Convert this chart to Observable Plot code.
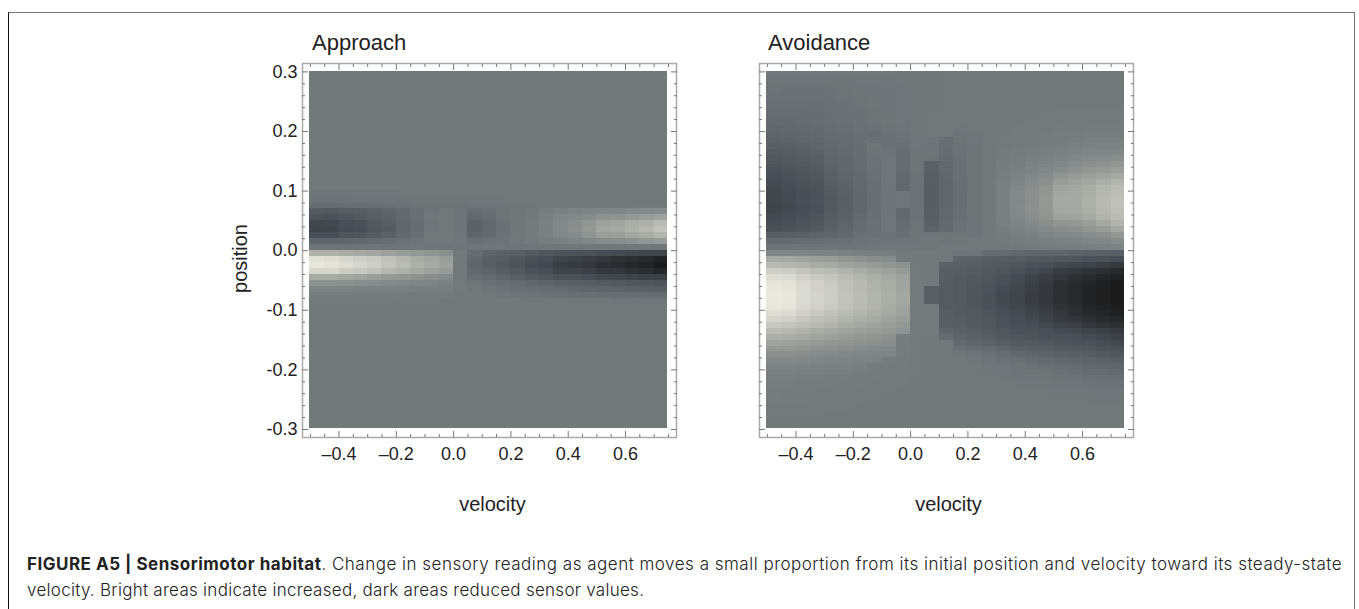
<!DOCTYPE html>
<html><head><meta charset="utf-8">
<script src="https://cdn.jsdelivr.net/npm/d3@7"></script>
<script src="https://cdn.jsdelivr.net/npm/@observablehq/plot@0.6"></script>
<style>
html,body{margin:0;padding:0;background:#fff;}
#page{position:relative;width:1359px;height:609px;overflow:hidden;font-family:"Liberation Sans",sans-serif;color:#222;}
#box{position:absolute;left:8px;top:12px;width:1347px;height:620px;border-left:1.5px solid #111;border-top:1.5px solid #777;border-right:1.5px solid #777;box-sizing:border-box;}
.panel{position:absolute;top:0;}
.ttl{position:absolute;top:30px;font-size:22px;line-height:26px;color:#222;}
#cap{position:absolute;left:27px;top:551px;width:1325px;font-family:Inter,sans-serif;font-weight:300;font-size:17px;line-height:26px;color:#222;white-space:nowrap;}
#cap b{font-weight:700;}
#l1{letter-spacing:.5px;}
#l2{letter-spacing:.28px;}
</style></head><body>
<div id="page"><div id="box"></div>
<div class="ttl" id="t1" style="left:312px"></div>
<div class="ttl" id="t2" style="left:768px"></div>
<div class="panel" id="p1" style="left:0"></div>
<div class="panel" id="p2" style="left:700px"></div>
<div id="cap"><span id="l1"></span><br><span id="l2"></span></div></div>
<script>
const titles = ["Approach", "Avoidance"];
const xLabel = "velocity", yLabel = "position";
const captionHead = "FIGURE A5 | Sensorimotor habitat";
const captionLine1 = ". Change in sensory reading as agent moves a small proportion from its initial position and velocity toward its steady-state";
const captionLine2 = "velocity. Bright areas indicate increased, dark areas reduced sensor values.";

const xMajor = [-0.4,-0.2,0,0.2,0.4,0.6];
const xMinor = [-0.5,-0.45,-0.35,-0.3,-0.25,-0.15,-0.1,-0.05,0.05,0.1,0.15,0.25,0.3,0.35,0.45,0.5,0.55,0.65,0.7,0.75];
const yMajor = [-0.3,-0.2,-0.1,0,0.1,0.2,0.3];
const yMinor = [-0.28,-0.26,-0.24,-0.22,-0.18,-0.16,-0.14,-0.12,-0.08,-0.06,-0.04,-0.02,0.02,0.04,0.06,0.08,0.12,0.14,0.16,0.18,0.22,0.24,0.26,0.28];

const velocityEdges = [-0.502,-0.45,-0.4,-0.35,-0.3,-0.25,-0.2,-0.15,-0.1,-0.05,0,0.05,0.1,0.15,0.2,0.25,0.3,0.35,0.4,0.45,0.5,0.55,0.6,0.65,0.7,0.745];
const positionEdges = [0.3,0.29,0.28,0.27,0.26,0.25,0.24,0.23,0.22,0.21,0.2,0.19,0.18,0.17,0.16,0.15,0.14,0.13,0.12,0.11,0.1,0.09,0.08,0.07,0.06,0.05,0.04,0.03,0.02,0.01,0,-0.01,-0.02,-0.03,-0.04,-0.05,-0.06,-0.07,-0.08,-0.09,-0.1,-0.11,-0.12,-0.13,-0.14,-0.15,-0.16,-0.17,-0.18,-0.19,-0.2,-0.21,-0.22,-0.23,-0.24,-0.25,-0.26,-0.27,-0.28,-0.29,-0.298];

const q = [0,0,0,0,0,0,0,0,0,0,0,0,0,0,0,0,0,0,0,0,0,0,0,0,0];
const approachGrid = [
q,q,q,q,q,q,q,q,q,q,q,q,q,q,q,q,q,q,q,q,
[-3,-3,-3,-3,-3,-3,-2,-2,-2,-2,-2,-1,-1,-1,-1,-1,0,0,0,0,0,0,0,0,0],
[-6,-6,-6,-5,-5,-5,-4,-4,-3,-3,-3,-2,-2,-2,-1,-1,-1,0,0,0,0,0,0,0,0],
[-14,-14,-13,-12,-11,-10,-8,-6,-6,-6,-6,-4,-4,-3,-2,-2,-1,-1,-1,0,0,0,1,1,1],
[-35,-36,-32,-30,-26,-22,-16,-10,-4,-1,-4,-12,-10,-5,-2,0,4,7,9,11,13,13,15,16,18],
[-42,-44,-40,-36,-30,-25,-17,-10,-2,0,-4,-17,-14,-6,-2,1,6,12,14,18,24,25,30,34,38],
[-55,-54,-48,-46,-36,-30,-20,-12,-3,0,-4,-24,-18,-8,-2,2,8,15,20,28,38,40,48,52,60],
[-58,-56,-50,-48,-38,-32,-21,-13,-3,0,-4,-25,-19,-9,-2,2,8,15,22,30,42,44,52,58,68],
[-48,-48,-42,-40,-32,-26,-17,-10,-2,0,-3,-20,-15,-7,-2,2,7,13,18,25,35,36,42,48,55],
[-22,-22,-20,-18,-15,-12,-8,-5,-1,0,-2,-10,-8,-4,-1,1,4,7,10,13,18,20,24,28,32],
[-5,-5,-5,-5,-4,-4,-3,-3,-3,-3,-3,-3,-3,-3,-3,-3,-2,-2,-2,-2,-2,-1,-1,-1,-1],
[52,52,48,45,42,38,34,30,26,22,0,-14,-22,-26,-30,-34,-38,-42,-44,-46,-50,-52,-55,-58,-58],
[92,90,84,78,74,66,58,48,42,35,0,-18,-28,-32,-38,-46,-50,-58,-62,-66,-72,-76,-82,-86,-92],
[98,96,90,84,78,70,62,52,45,38,0,-20,-30,-34,-42,-50,-55,-64,-68,-72,-78,-82,-88,-92,-100],
[84,84,76,72,66,58,52,44,38,32,0,-18,-24,-30,-36,-44,-50,-58,-60,-64,-70,-72,-78,-82,-88],
[46,46,42,40,36,32,28,24,20,16,0,-12,-16,-22,-28,-34,-40,-46,-46,-50,-54,-56,-60,-62,-62],
[24,24,22,20,18,16,14,12,10,8,1,-5,-8,-12,-15,-18,-22,-26,-28,-30,-34,-36,-38,-40,-42],
[9,9,9,8,8,8,7,6,6,5,1,-2,-6,-8,-10,-12,-14,-16,-18,-20,-22,-24,-26,-28,-30],
[3,3,3,3,3,3,2,2,2,2,0,0,-1,-3,-5,-6,-7,-8,-10,-10,-11,-12,-12,-14,-14],
[1,1,1,1,1,1,1,1,1,0,0,0,0,0,0,-1,-1,-1,-2,-2,-2,-3,-3,-3,-3],
q,q,q,q,q,q,q,q,q,q,q,q,q,q,q,q,q,q,q,q,q
];
const avoidanceGrid = [
[-3,-3,-3,-3,-3,-2,-2,-2,-2,-2,-2,-2,-1,-1,-1,-1,-1,-1,-1,-1,-1,-1,-1,-1,-1],
[-5,-5,-5,-5,-4,-4,-3,-3,-3,-2,-2,-2,-1,-1,-1,-1,-1,-1,-1,-1,-1,-1,-1,-1,-1],
[-6,-7,-7,-7,-6,-5,-4,-4,-3,-3,-2,-2,-1,-1,-1,-1,-1,0,0,0,0,0,0,0,0],
[-7,-8,-8,-8,-7,-6,-5,-4,-4,-3,-2,-2,-1,-1,-1,-1,0,0,0,0,0,0,0,0,0],
[-9,-9,-9,-9,-8,-7,-6,-5,-4,-3,-2,-2,-1,-1,-1,0,0,0,0,0,0,0,0,0,0],
[-10,-10,-10,-10,-9,-8,-6,-5,-4,-3,-2,-2,-1,-1,-1,0,0,0,0,0,0,0,0,0,0],
[-12,-12,-11,-10,-9,-8,-7,-6,-4,-3,-2,-2,-1,-1,0,0,0,0,0,0,1,1,1,1,1],
[-14,-14,-13,-12,-10,-9,-8,-6,-5,-3,-2,-1,-1,-1,0,0,0,0,0,1,1,1,1,1,2],
[-16,-16,-14,-13,-11,-10,-8,-7,-5,-3,-2,-1,-1,-1,0,0,0,0,1,1,1,2,2,2,2],
[-19,-18,-16,-15,-12,-11,-9,-8,-6,-4,-2,-1,-1,-2,-1,0,0,1,1,1,2,2,3,3,3],
[-22,-21,-19,-17,-14,-13,-10,-12,-7,-7,-2,-1,-1,-4,-2,-1,0,1,1,2,3,3,4,4,4],
[-25,-24,-21,-19,-15,-14,-11,-9,-9,-8,-3,-3,-12,-6,-3,-1,1,1,2,3,3,5,6,6,6],
[-29,-27,-25,-22,-17,-15,-12,-5,-8,-10,-3,-4,-13,-7,-4,-1,1,2,3,4,5,7,8,9,9],
[-33,-31,-28,-25,-19,-16,-12,-6,-6,-12,-4,-4,-14,-8,-5,-1,2,3,5,6,8,10,12,13,13],
[-37,-35,-31,-28,-21,-18,-13,-7,-4,-13,-5,-6,-15,-9,-5,-1,2,4,6,8,10,14,17,18,20],
[-41,-38,-34,-31,-23,-19,-14,-7,-3,-14,-6,-26,-17,-9,-6,-1,3,5,8,11,14,18,22,24,28],
[-45,-42,-38,-35,-26,-21,-15,-8,-3,-15,-6,-27,-18,-10,-6,-1,4,7,10,14,18,24,28,32,36],
[-48,-45,-41,-38,-27,-22,-16,-9,-3,-16,-7,-28,-19,-10,-6,-1,5,9,14,18,26,32,36,40,46],
[-52,-48,-43,-40,-29,-24,-17,-10,-3,-17,-7,-28,-20,-11,-6,0,6,11,17,22,34,38,42,50,56],
[-55,-51,-46,-43,-32,-26,-18,-10,-4,-18,-7,-30,-20,-11,-6,0,7,13,20,26,40,42,48,56,62],
[-56,-53,-48,-44,-33,-27,-19,-11,-4,-3,-7,-30,-20,-11,-5,0,8,15,22,28,42,44,50,58,64],
[-56,-53,-48,-44,-34,-28,-19,-11,-4,-3,-7,-30,-20,-11,-5,0,8,15,22,30,44,46,52,60,66],
[-58,-54,-49,-45,-34,-28,-19,-11,-4,-3,-7,-30,-20,-11,-5,0,8,16,23,30,44,46,52,60,66],
[-56,-53,-48,-44,-34,-27,-19,-11,-4,-18,-7,-29,-19,-10,-5,0,8,15,22,29,42,44,50,58,64],
[-54,-50,-45,-42,-32,-26,-17,-10,-3,-17,-7,-28,-18,-10,-5,0,7,14,20,26,38,40,46,54,62],
[-50,-47,-42,-38,-29,-23,-15,-9,-3,-15,-6,-26,-17,-9,-4,0,6,11,16,20,28,30,36,44,54],
[-46,-43,-38,-33,-26,-21,-14,-10,-3,-13,-6,-24,-16,-8,-4,0,4,8,12,16,20,22,26,34,42],
[-30,-28,-26,-24,-20,-16,-10,-8,-8,-10,-5,-4,-5,-5,-3,0,2,5,8,10,13,15,18,22,28],
[-15,-15,-14,-13,-11,-9,-7,-6,-5,-4,-3,-2,-3,-2,-1,0,1,3,5,6,8,9,12,14,18],
[-6,-6,-6,-5,-5,-4,-4,-3,-3,-2,-2,-2,-1,-1,-1,0,0,1,2,3,4,5,6,8,10],
[12,12,11,10,9,8,7,6,5,1,0,0,-1,-3,-4,-14,-16,-18,-20,-22,-22,-24,-26,-26,-28],
[45,44,40,36,34,28,24,20,18,1,0,0,-1,-24,-26,-30,-32,-32,-34,-36,-38,-40,-44,-46,-50],
[60,58,54,48,46,40,36,32,28,24,1,0,-26,-28,-30,-34,-36,-40,-44,-48,-52,-56,-60,-64,-70],
[78,76,70,64,60,54,48,42,38,32,1,0,-28,-30,-33,-36,-40,-46,-52,-58,-66,-70,-76,-80,-86],
[90,88,80,74,70,62,56,50,45,38,1,0,-30,-33,-36,-40,-46,-52,-58,-64,-72,-78,-84,-90,-94],
[96,94,86,80,74,66,60,52,48,40,1,0,-32,-34,-38,-42,-48,-54,-62,-68,-78,-84,-90,-95,-99],
[98,96,88,80,76,66,60,54,49,41,1,-28,-33,-36,-40,-44,-52,-56,-64,-70,-80,-86,-92,-96,-100],
[100,98,88,82,76,68,62,55,50,42,1,-28,-33,-36,-40,-46,-54,-58,-66,-72,-80,-86,-92,-96,-100],
[100,98,88,82,76,68,62,55,50,42,1,-28,-33,-36,-40,-46,-54,-58,-66,-72,-80,-86,-92,-96,-100],
[98,96,86,80,74,66,60,54,48,40,1,1,-32,-35,-38,-44,-50,-56,-62,-68,-76,-82,-90,-94,-98],
[90,88,80,74,68,62,56,50,45,38,1,1,-30,-33,-36,-42,-48,-52,-58,-64,-72,-78,-86,-90,-94],
[82,80,72,66,62,56,50,45,40,34,1,1,-30,-32,-36,-40,-46,-50,-54,-60,-68,-74,-80,-86,-88],
[72,70,64,60,54,48,44,40,36,30,1,1,-28,-30,-34,-38,-44,-48,-50,-54,-60,-64,-70,-76,-80],
[60,58,54,48,44,40,36,33,30,25,1,1,-22,-26,-30,-34,-40,-44,-46,-48,-52,-54,-58,-62,-68],
[50,48,44,40,36,33,30,27,24,4,1,0,-14,-22,-26,-30,-36,-40,-42,-44,-46,-48,-52,-56,-62],
[40,38,35,32,28,26,24,22,20,4,1,0,0,-16,-20,-24,-30,-34,-36,-38,-42,-44,-46,-50,-54],
[30,29,27,24,22,20,18,16,15,3,1,0,0,-10,-12,-16,-20,-26,-28,-30,-34,-36,-38,-42,-46],
[22,22,20,18,16,14,13,12,11,3,1,0,0,-2,-4,-8,-12,-18,-20,-24,-26,-28,-30,-34,-38],
[15,15,14,13,11,10,9,9,3,2,1,0,0,0,-2,-4,-8,-10,-14,-16,-18,-20,-24,-26,-30],
[10,10,9,8,7,7,6,3,2,2,1,0,0,0,-1,-3,-4,-6,-8,-10,-12,-14,-18,-20,-22],
[7,7,6,6,5,5,3,2,2,1,1,0,0,0,-1,-2,-3,-4,-5,-6,-8,-10,-12,-14,-16],
[5,5,4,4,3,3,2,2,1,1,0,0,0,0,0,-1,-2,-3,-4,-5,-6,-7,-9,-10,-11],
[4,4,3,3,3,2,2,1,1,1,0,0,0,0,0,-1,-1,-2,-3,-3,-4,-5,-6,-7,-7],
[3,3,3,2,2,2,1,1,1,0,0,0,0,0,0,0,-1,-1,-2,-2,-3,-3,-3,-4,-4],
[3,2,2,2,2,1,1,1,0,0,0,0,0,0,0,0,0,-1,-1,-1,-2,-2,-2,-3,-3],
[2,2,2,1,1,1,1,0,0,0,0,0,0,0,0,0,0,0,-1,-1,-1,-1,-2,-2,-2],
[1,1,1,1,1,1,0,0,0,0,0,0,0,0,0,0,0,0,0,0,-1,-1,-1,-1,-1],
[1,1,1,1,0,0,0,0,0,0,0,0,0,0,0,0,0,0,0,0,0,0,-1,-1,-1],
[0,0,0,0,0,0,0,0,0,0,0,0,0,0,0,0,0,0,0,0,0,0,0,0,-1],
q
];

const colorStops = [-100,-50,0,50,100];
const grayRamp = ["#1b1b1b","#474d54","#71797b","#acaea8","#e9e9df"];

function cellsOf(grid){
  const out=[];
  grid.forEach((row,r)=>row.forEach((v,c)=>out.push({v,x1:velocityEdges[c],x2:velocityEdges[c+1],y1:positionEdges[r],y2:positionEdges[r+1]})));
  return out;
}
const fmtX = d => d===0 ? "0.0" : (d<0 ? "–"+(-d).toFixed(1) : d.toFixed(1));
const fmtY = d => d.toFixed(1);

function panel(grid, showY, w, ml, mr, labelShift){
  const axisStyle = {fontSize:18, fill:"#222"};
  const tick = {stroke:"#777", strokeWidth:1};
  const inward = (fn,anchor,ticks,size) => fn({anchor,ticks,tickSize:-size,tickFormat:()=>null,label:null,...tick});
  const marks = [
    Plot.rect(cellsOf(grid),{x1:"x1",x2:"x2",y1:"y1",y2:"y2",fill:"v",shapeRendering:"crispEdges"}),
    Plot.frame({stroke:"#aaa",strokeWidth:1.5}),
    inward(Plot.axisX,"bottom",xMajor,6), inward(Plot.axisX,"top",xMajor,6),
    inward(Plot.axisX,"bottom",xMinor,3), inward(Plot.axisX,"top",xMinor,3),
    inward(Plot.axisY,"left",yMajor,6), inward(Plot.axisY,"right",yMajor,6),
    inward(Plot.axisY,"left",yMinor,3), inward(Plot.axisY,"right",yMinor,3),
    Plot.axisX({anchor:"bottom",ticks:xMajor,tickSize:0,tickPadding:10,tickFormat:fmtX,label:null,...axisStyle}),
    Plot.text([xLabel],{text:d=>d,frameAnchor:"bottom",dx:labelShift,dy:73,fontSize:20,fill:"#222"})
  ];
  if(showY){
    marks.push(Plot.axisY({anchor:"left",ticks:yMajor,tickSize:0,tickPadding:5,tickFormat:fmtY,label:null,...axisStyle}));
    marks.push(Plot.text([yLabel],{text:d=>d,frameAnchor:"left",textAnchor:"middle",rotate:-90,dx:-62,dy:8,fontSize:20,fill:"#222"}));
  }
  return Plot.plot({
    width:w,height:500,marginLeft:ml,marginRight:mr,marginTop:63,marginBottom:63,
    style:{background:"transparent",fontFamily:"'Liberation Sans',sans-serif",overflow:"visible"},
    x:{domain:[-0.5275,0.778],axis:null},
    y:{domain:[-0.3135,0.3141],axis:null},
    color:{type:"linear",domain:colorStops,range:grayRamp,interpolate:"rgb"},
    marks
  });
}
document.getElementById("p1").append(panel(approachGrid,true,700,302,24,3));
document.getElementById("p2").append(panel(avoidanceGrid,false,659,59,226,2));
document.getElementById("t1").textContent=titles[0];
document.getElementById("t2").textContent=titles[1];
const b=document.createElement("b");b.textContent=captionHead;
document.getElementById("l1").append(b,captionLine1);
document.getElementById("l2").textContent=captionLine2;
</script></body></html>
